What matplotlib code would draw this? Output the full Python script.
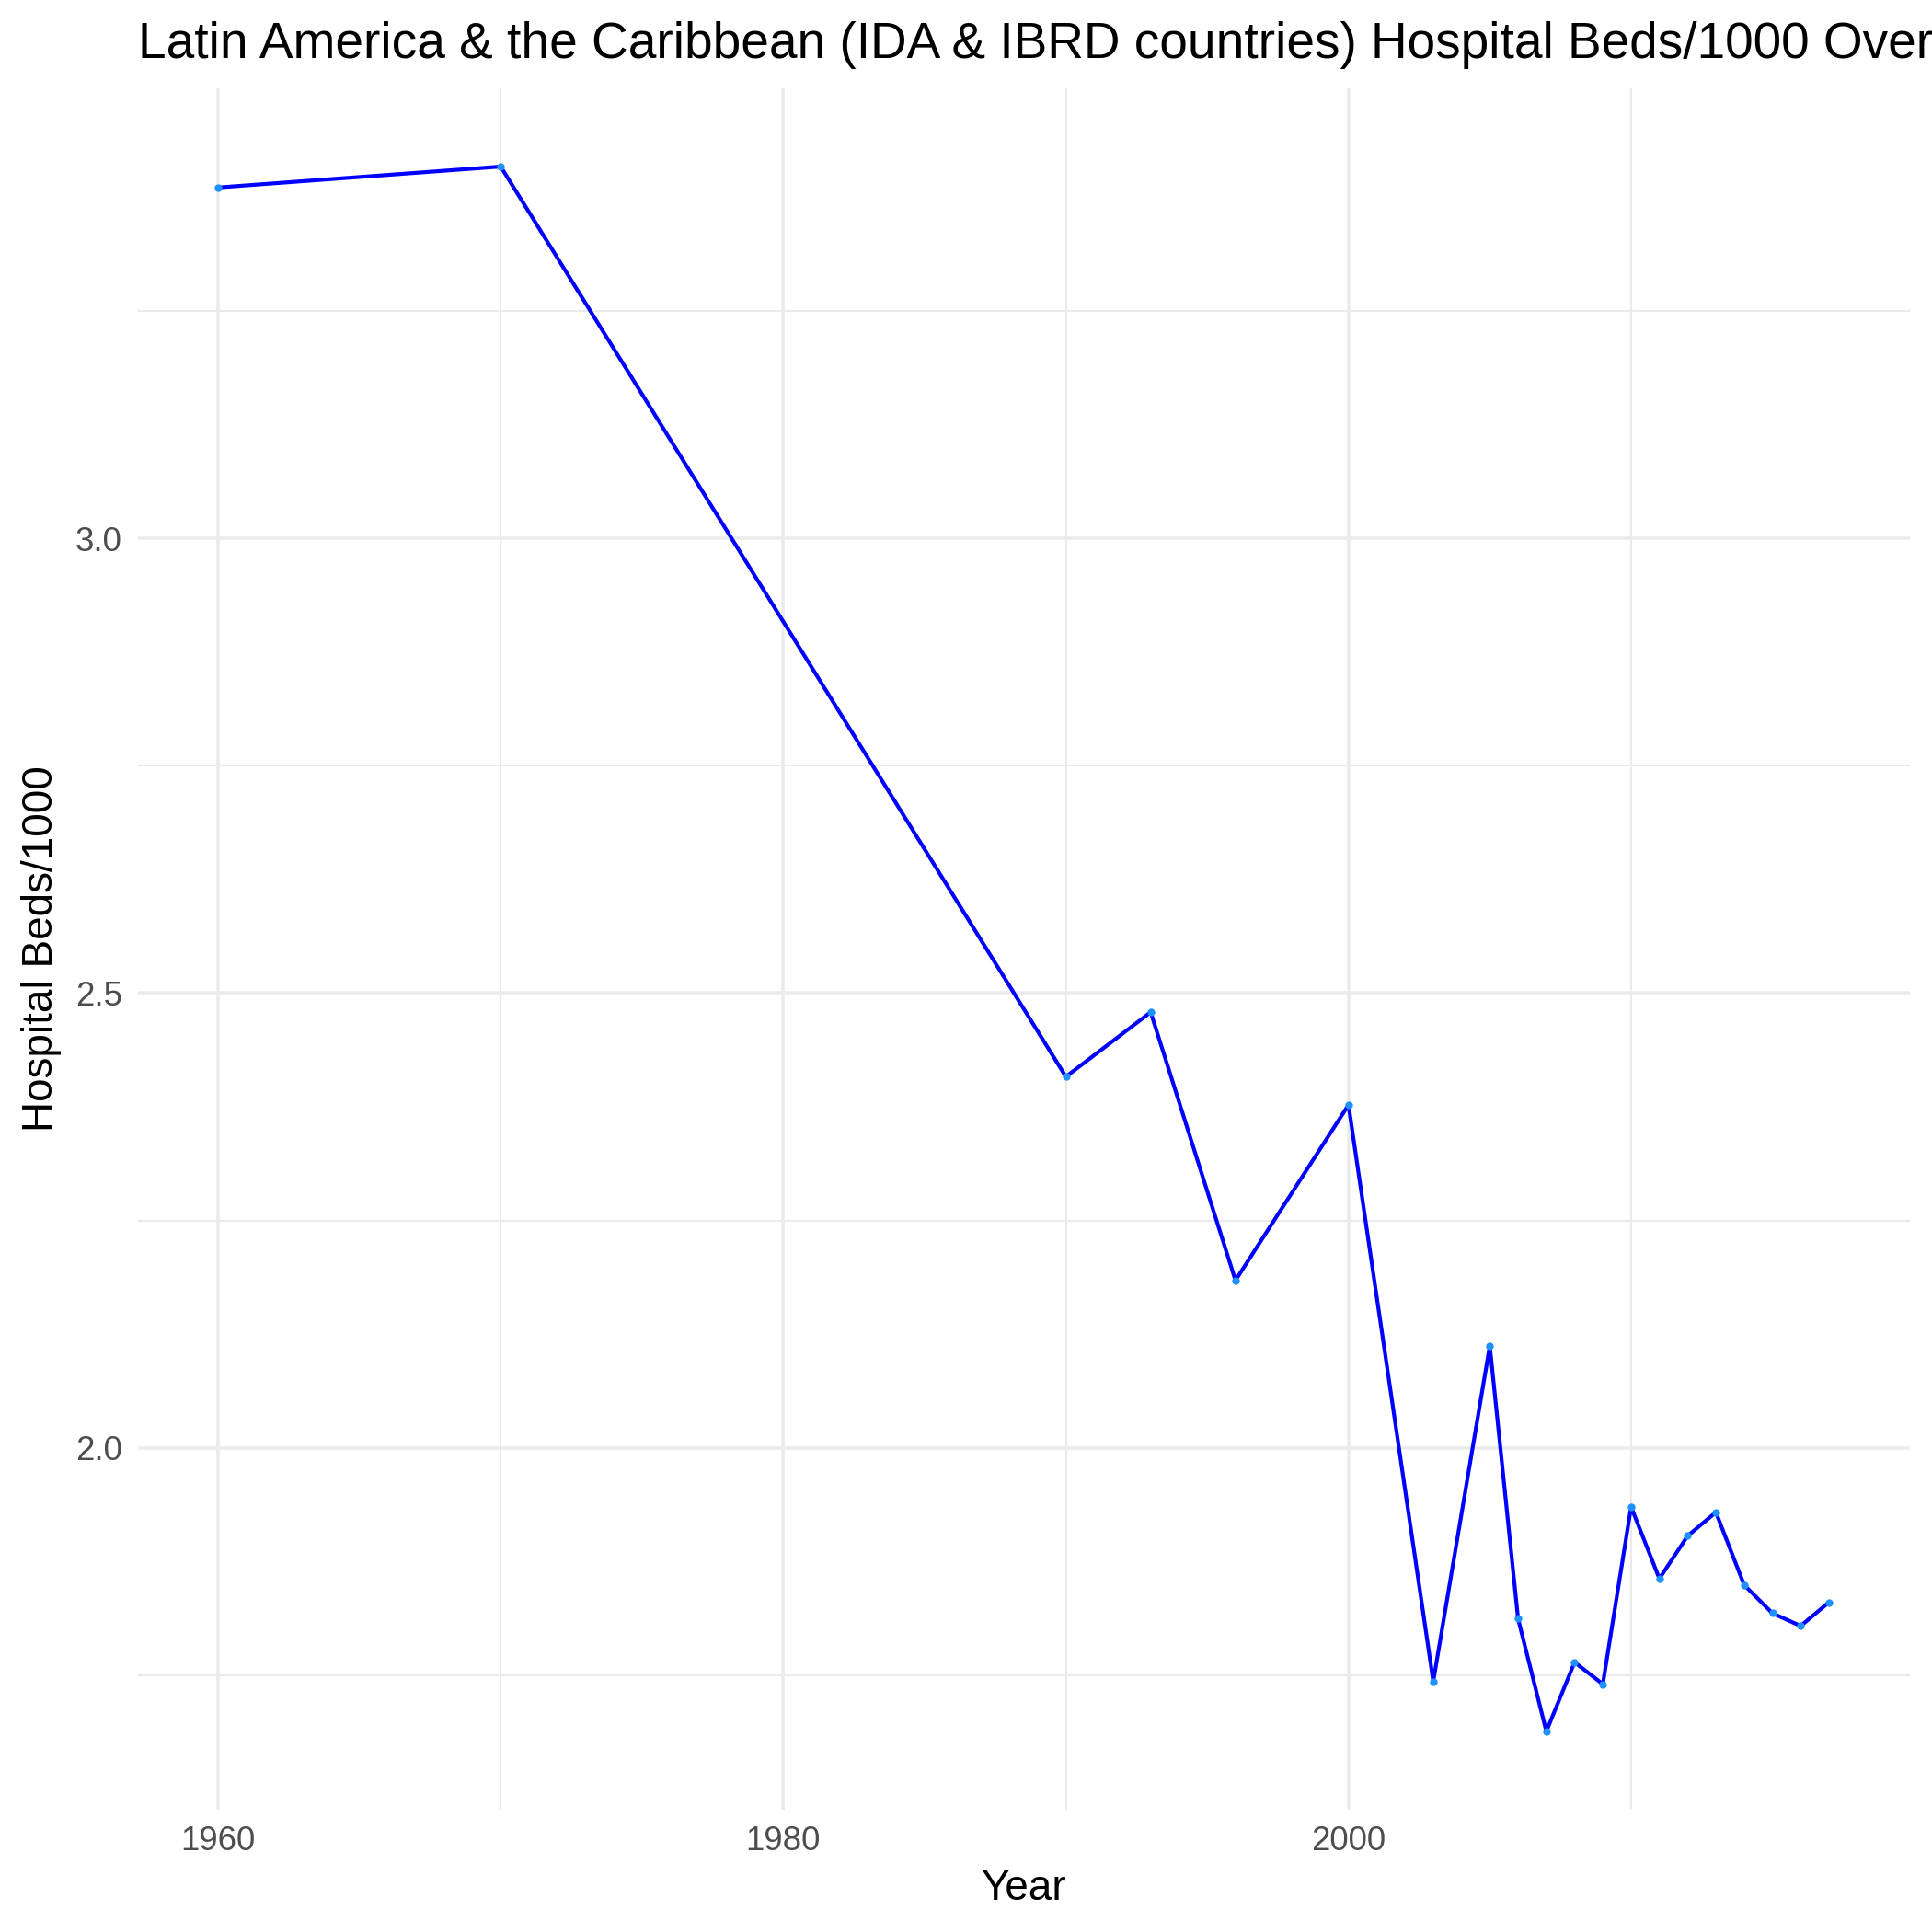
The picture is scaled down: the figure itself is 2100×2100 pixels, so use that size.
import matplotlib
matplotlib.use("Agg")
import matplotlib.pyplot as plt
from matplotlib.ticker import FixedLocator

years = [1960, 1970, 1990, 1993, 1996, 2000, 2003, 2005, 2006, 2007, 2008, 2009,
         2010, 2011, 2012, 2013, 2014, 2015, 2016, 2017]
beds = [3.386, 3.409, 2.408, 2.479, 2.184, 2.377, 1.743, 2.112, 1.812, 1.688, 1.764, 1.740,
        1.935, 1.856, 1.903, 1.929, 1.849, 1.818, 1.804, 1.830]

x_major = [1960, 1980, 2000]
x_minor = [1970, 1990, 2010]
y_major = [2.0, 2.5, 3.0]
y_minor = [1.75, 2.25, 2.75, 3.25]

title = "Latin America & the Caribbean (IDA & IBRD countries) Hospital Beds/1000 Over Time"

plt.rcParams['font.family'] = ['Liberation Sans', 'DejaVu Sans']

W, H = 2100, 2100
fig = plt.figure(figsize=(7, 7), dpi=300)
left, right, top, bottom = 149.5 / W, 2075.5 / W, 96 / H, 1967 / H
ax = fig.add_axes([left, 1 - bottom, right - left, bottom - top])

ax.plot(years, beds, color='blue', linewidth=1.0, zorder=3)
ax.plot(years, beds, linestyle='none', marker='o', markersize=2.0,
        color='#1E90FF', markeredgewidth=0, zorder=4)

xmin, xmax = min(years), max(years)
xr = xmax - xmin
ax.set_xlim(xmin - 0.05 * xr, xmax + 0.05 * xr)
ymin, ymax = min(beds), max(beds)
yr = ymax - ymin
ax.set_ylim(ymin - 0.05 * yr, ymax + 0.05 * yr)

ax.xaxis.set_major_locator(FixedLocator(x_major))
ax.xaxis.set_minor_locator(FixedLocator(x_minor))
ax.yaxis.set_major_locator(FixedLocator(y_major))
ax.yaxis.set_minor_locator(FixedLocator(y_minor))
ax.set_xticklabels([str(v) for v in x_major])
ax.set_yticklabels([f"{v:.1f}" for v in y_major])

ax.grid(which='major', color='#EBEBEB', linewidth=0.85, zorder=0)
ax.grid(which='minor', color='#EBEBEB', linewidth=0.5, zorder=0)
ax.set_axisbelow(True)
for s in ax.spines.values():
    s.set_visible(False)
ax.tick_params(which='both', length=0)
ax.tick_params(axis='both', labelsize=8.8, labelcolor='#4D4D4D')
ax.tick_params(axis='x', pad=4)
ax.tick_params(axis='y', pad=4)

ax.set_xlabel("Year", fontsize=11, color='black', labelpad=3)
ax.set_ylabel("Hospital Beds/1000", fontsize=11, color='black', labelpad=3.5)

fig.text(left, 1 - 63 / H, title, fontsize=13.2, color='black', ha='left', va='baseline')

fig.savefig("out.png", dpi=300, facecolor='white')
